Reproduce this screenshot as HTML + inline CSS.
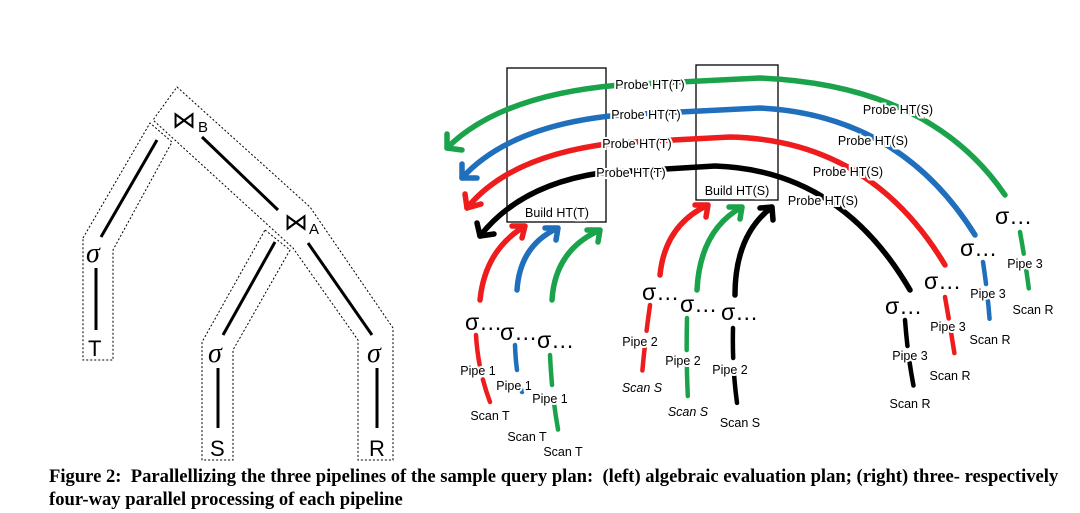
<!DOCTYPE html>
<html><head><meta charset="utf-8"><style>
html,body{margin:0;padding:0;background:#fff;width:1080px;height:513px;overflow:hidden}
svg{display:block}
.cap{position:absolute;left:49px;font-family:"Liberation Serif",serif;font-weight:bold;font-size:18.6px;color:#000;white-space:nowrap}
</style></head><body>
<svg width="1080" height="513" xmlns="http://www.w3.org/2000/svg" style="position:absolute;left:0;top:0">
<g fill="none" stroke="#000" stroke-width="1" stroke-dasharray="2,2">
<polygon points="83,238 150,123 172,142 113,250 113,360 83,360"/>
<polygon points="177,87 310,207 393,328 393,460 358,460 358,340 293,248 153,120"/>
<polygon points="265,230 290,250 233,350 233,460 202,460 202,342"/>
</g>
<g stroke="#000" stroke-width="3" fill="none">
<line x1="157" y1="140" x2="101" y2="237"/><line x1="96" y1="268" x2="96" y2="330"/>
<line x1="202" y1="137" x2="278" y2="210"/>
<line x1="275" y1="242" x2="223" y2="335"/><line x1="218" y1="368" x2="218" y2="428"/>
<line x1="308" y1="243" x2="372" y2="335"/><line x1="377" y1="368" x2="377" y2="428"/>
</g>
<g font-family="Liberation Sans,sans-serif" fill="#000">
<text x="172" y="128" font-size="24">⋈</text><text x="198" y="132" font-size="15">B</text>
<text x="284" y="230" font-size="24">⋈</text><text x="309" y="234" font-size="15">A</text>
<text x="86" y="262" font-size="28" font-style="italic" font-family="Liberation Serif,serif">σ</text>
<text x="88" y="356" font-size="22">T</text>
<text x="208" y="362" font-size="28" font-style="italic" font-family="Liberation Serif,serif">σ</text>
<text x="210" y="456" font-size="22">S</text>
<text x="367" y="362" font-size="28" font-style="italic" font-family="Liberation Serif,serif">σ</text>
<text x="369" y="456" font-size="22">R</text>
</g>
<rect x="507" y="68" width="99" height="154" fill="none" stroke="#000" stroke-width="1.3"/>
<rect x="696" y="65" width="82" height="135" fill="none" stroke="#000" stroke-width="1.3"/>
<g fill="none" stroke-width="5.5" stroke-linecap="round">
<path d="M1005,195 Q930,85 760,78 L620,85 Q500,95 447,148" stroke="#1aa34a"/>
<path d="M975,235 Q900,115 760,108 L620,115 Q510,125 462,178" stroke="#1f6fbd"/>
<path d="M945,265 Q870,140 730,137 L615,143 Q510,155 467,208" stroke="#ee1c1c"/>
<path d="M910,290 Q840,170 715,166 L600,173 Q520,185 480,236" stroke="#000"/>
<path d="M447,148 l0,-14 M447,148 l15,2" stroke="#1aa34a"/>
<path d="M462,178 l0,-14 M462,178 l15,0" stroke="#1f6fbd"/>
<path d="M467,208 l-2,-14 M467,208 l14,-4" stroke="#ee1c1c"/>
<path d="M480,236 l-3,-13 M480,236 l14,-2" stroke="#000"/>
<path d="M480,300 Q485,250 525,226 M525,226 l-13,0 M525,226 l-3,12" stroke="#ee1c1c"/>
<path d="M517,290 Q520,245 558,228 M558,228 l-13,0 M558,228 l-2,12" stroke="#1f6fbd"/>
<path d="M552,300 Q555,250 600,230 M600,230 l-13,0 M600,230 l-2,12" stroke="#1aa34a"/>
<path d="M660,275 Q665,225 708,205 M708,205 l-13,0 M708,205 l-2,12" stroke="#ee1c1c"/>
<path d="M697,290 Q700,230 742,207 M742,207 l-13,0 M742,207 l-2,12" stroke="#1aa34a"/>
<path d="M735,295 Q735,235 772,207 M772,207 l-12,1 M772,207 l1,13" stroke="#000"/>
<g stroke-width="4.5">
<path d="M476,335 Q478,370 490,402" stroke="#ee1c1c" stroke-dasharray="30,15"/>
<path d="M515,345 Q516,375 522,392" stroke="#1f6fbd" stroke-dasharray="25,14"/>
<path d="M550,355 Q552,400 560,440" stroke="#1aa34a" stroke-dasharray="30,15"/>
<path d="M650,305 Q645,340 642,375" stroke="#ee1c1c" stroke-dasharray="26,14"/>
<path d="M687,318 Q686,360 688,400" stroke="#1aa34a" stroke-dasharray="32,14"/>
<path d="M733,328 Q732,370 738,410" stroke="#000" stroke-dasharray="30,15"/>
<path d="M905,320 Q908,360 915,393" stroke="#000" stroke-dasharray="26,14"/>
<path d="M945,297 Q950,325 955,357" stroke="#ee1c1c" stroke-dasharray="22,13"/>
<path d="M983,262 Q988,295 990,325" stroke="#1f6fbd" stroke-dasharray="22,13"/>
<path d="M1020,232 Q1026,265 1030,298" stroke="#1aa34a" stroke-dasharray="22,13"/>
</g>
</g>
<g font-family="Liberation Sans,sans-serif" font-size="12.5" fill="#000" text-anchor="middle">
<g stroke="#fff" stroke-width="4" paint-order="stroke">
<text x="650" y="89">Probe HT(T)</text>
<text x="646" y="119">Probe HT(T)</text>
<text x="637" y="148">Probe HT(T)</text>
<text x="631" y="177">Probe HT(T)</text>
<text x="898" y="114">Probe HT(S)</text>
<text x="873" y="145">Probe HT(S)</text>
<text x="848" y="176">Probe HT(S)</text>
<text x="823" y="205">Probe HT(S)</text>
<text x="557" y="217">Build HT(T)</text>
<text x="737" y="195">Build HT(S)</text>
<text x="478" y="375">Pipe 1</text><text x="490" y="420">Scan T</text>
<text x="514" y="390">Pipe 1</text><text x="527" y="441">Scan T</text>
<text x="550" y="403">Pipe 1</text><text x="563" y="456">Scan T</text>
<text x="640" y="346">Pipe 2</text><text x="642" y="392" font-style="italic">Scan S</text>
<text x="683" y="365">Pipe 2</text><text x="688" y="416" font-style="italic">Scan S</text>
<text x="730" y="374">Pipe 2</text><text x="740" y="427">Scan S</text>
<text x="910" y="360">Pipe 3</text><text x="910" y="408">Scan R</text>
<text x="948" y="331">Pipe 3</text><text x="950" y="380">Scan R</text>
<text x="988" y="298">Pipe 3</text><text x="990" y="344">Scan R</text>
<text x="1025" y="268">Pipe 3</text><text x="1033" y="314">Scan R</text>
</g>
<g font-size="23" text-anchor="start">
<text x="465" y="330">σ…</text><text x="500" y="340">σ…</text><text x="537" y="348">σ…</text>
<text x="642" y="300">σ…</text><text x="680" y="312">σ…</text><text x="721" y="320">σ…</text>
<text x="885" y="314">σ…</text><text x="924" y="289">σ…</text><text x="960" y="256">σ…</text><text x="995" y="224">σ…</text>
</g>
</g>
</svg>
<div class="cap" style="top:466px">Figure 2:&nbsp; Parallellizing the three pipelines of the sample query plan:&nbsp; (left) algebraic evaluation plan; (right) three- respectively</div>
<div class="cap" style="top:489px">four-way parallel processing of each pipeline</div>
</body></html>
